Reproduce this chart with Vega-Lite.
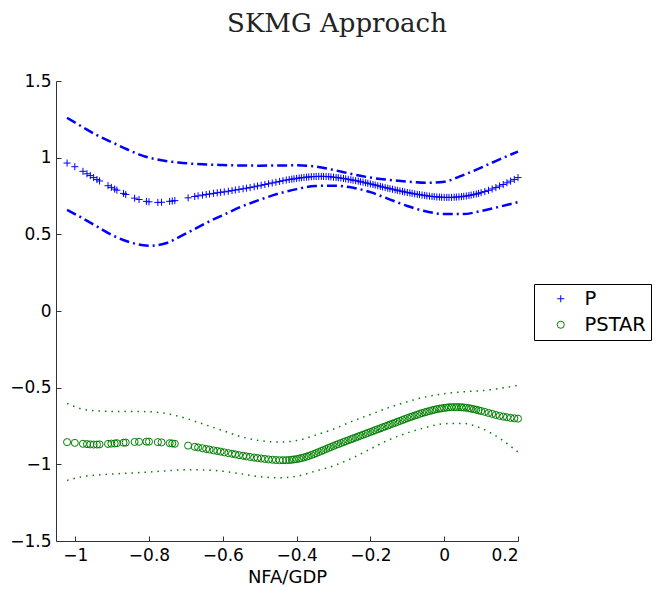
{
  "$schema": "https://vega.github.io/schema/vega-lite/v6.json",
  "width": 462,
  "height": 460,
  "autosize": {"type": "none"},
  "padding": {"left": 56, "top": 81, "right": 138, "bottom": 49},
  "background": "white",
  "config": {
    "view": {"stroke": null},
    "font": "DejaVu Sans",
    "axis": {
      "grid": false,
      "domainColor": "#333333",
      "tickColor": "#333333",
      "tickSize": -5,
      "labelPadding": 9,
      "labelFont": "DejaVu Sans",
      "labelFontSize": 17,
      "labelColor": "#000000",
      "titleFont": "DejaVu Sans",
      "titleFontSize": 18,
      "titleFontWeight": "normal",
      "titleColor": "#000000"
    }
  },
  "title": {
    "text": "SKMG Approach",
    "font": "DejaVu Serif",
    "fontSize": 26,
    "fontWeight": "normal",
    "color": "#222222",
    "anchor": "middle",
    "dx": 50,
    "offset": 35
  },
  "datasets": {
    "pts": [
      {"x": -1.022, "P": 0.965, "PSTAR": -0.855},
      {"x": -1.001, "P": 0.941, "PSTAR": -0.860},
      {"x": -0.979, "P": 0.911, "PSTAR": -0.866},
      {"x": -0.968, "P": 0.895, "PSTAR": -0.868},
      {"x": -0.959, "P": 0.883, "PSTAR": -0.870},
      {"x": -0.950, "P": 0.870, "PSTAR": -0.871},
      {"x": -0.941, "P": 0.857, "PSTAR": -0.871},
      {"x": -0.934, "P": 0.848, "PSTAR": -0.870},
      {"x": -0.911, "P": 0.817, "PSTAR": -0.867},
      {"x": -0.902, "P": 0.806, "PSTAR": -0.865},
      {"x": -0.893, "P": 0.795, "PSTAR": -0.864},
      {"x": -0.887, "P": 0.788, "PSTAR": -0.862},
      {"x": -0.869, "P": 0.767, "PSTAR": -0.859},
      {"x": -0.863, "P": 0.760, "PSTAR": -0.858},
      {"x": -0.839, "P": 0.736, "PSTAR": -0.854},
      {"x": -0.827, "P": 0.727, "PSTAR": -0.853},
      {"x": -0.807, "P": 0.715, "PSTAR": -0.852},
      {"x": -0.800, "P": 0.712, "PSTAR": -0.852},
      {"x": -0.776, "P": 0.708, "PSTAR": -0.855},
      {"x": -0.766, "P": 0.709, "PSTAR": -0.857},
      {"x": -0.744, "P": 0.715, "PSTAR": -0.862},
      {"x": -0.737, "P": 0.717, "PSTAR": -0.864},
      {"x": -0.730, "P": 0.720, "PSTAR": -0.866},
      {"x": -0.694, "P": 0.738, "PSTAR": -0.878},
      {"x": -0.676, "P": 0.747, "PSTAR": -0.886},
      {"x": -0.667, "P": 0.751, "PSTAR": -0.890},
      {"x": -0.655, "P": 0.756, "PSTAR": -0.895},
      {"x": -0.645, "P": 0.760, "PSTAR": -0.900},
      {"x": -0.636, "P": 0.763, "PSTAR": -0.904},
      {"x": -0.625, "P": 0.767, "PSTAR": -0.909},
      {"x": -0.615, "P": 0.771, "PSTAR": -0.913},
      {"x": -0.606, "P": 0.774, "PSTAR": -0.917},
      {"x": -0.596, "P": 0.777, "PSTAR": -0.922},
      {"x": -0.585, "P": 0.781, "PSTAR": -0.927},
      {"x": -0.575, "P": 0.785, "PSTAR": -0.931},
      {"x": -0.566, "P": 0.789, "PSTAR": -0.935},
      {"x": -0.556, "P": 0.793, "PSTAR": -0.940},
      {"x": -0.545, "P": 0.797, "PSTAR": -0.944},
      {"x": -0.536, "P": 0.801, "PSTAR": -0.948},
      {"x": -0.526, "P": 0.805, "PSTAR": -0.952},
      {"x": -0.515, "P": 0.810, "PSTAR": -0.956},
      {"x": -0.506, "P": 0.815, "PSTAR": -0.959},
      {"x": -0.496, "P": 0.820, "PSTAR": -0.962},
      {"x": -0.486, "P": 0.825, "PSTAR": -0.965},
      {"x": -0.476, "P": 0.830, "PSTAR": -0.968},
      {"x": -0.466, "P": 0.835, "PSTAR": -0.970},
      {"x": -0.456, "P": 0.840, "PSTAR": -0.972},
      {"x": -0.446, "P": 0.845, "PSTAR": -0.973},
      {"x": -0.437, "P": 0.850, "PSTAR": -0.973},
      {"x": -0.428, "P": 0.854, "PSTAR": -0.973},
      {"x": -0.420, "P": 0.857, "PSTAR": -0.972},
      {"x": -0.413, "P": 0.860, "PSTAR": -0.970},
      {"x": -0.407, "P": 0.862, "PSTAR": -0.968},
      {"x": -0.400, "P": 0.865, "PSTAR": -0.966},
      {"x": -0.393, "P": 0.867, "PSTAR": -0.963},
      {"x": -0.387, "P": 0.869, "PSTAR": -0.959},
      {"x": -0.380, "P": 0.871, "PSTAR": -0.955},
      {"x": -0.373, "P": 0.873, "PSTAR": -0.950},
      {"x": -0.367, "P": 0.874, "PSTAR": -0.945},
      {"x": -0.360, "P": 0.876, "PSTAR": -0.939},
      {"x": -0.353, "P": 0.877, "PSTAR": -0.933},
      {"x": -0.347, "P": 0.877, "PSTAR": -0.927},
      {"x": -0.340, "P": 0.878, "PSTAR": -0.920},
      {"x": -0.333, "P": 0.878, "PSTAR": -0.913},
      {"x": -0.327, "P": 0.878, "PSTAR": -0.907},
      {"x": -0.320, "P": 0.877, "PSTAR": -0.900},
      {"x": -0.313, "P": 0.876, "PSTAR": -0.893},
      {"x": -0.307, "P": 0.875, "PSTAR": -0.887},
      {"x": -0.300, "P": 0.873, "PSTAR": -0.880},
      {"x": -0.293, "P": 0.871, "PSTAR": -0.873},
      {"x": -0.287, "P": 0.869, "PSTAR": -0.868},
      {"x": -0.280, "P": 0.867, "PSTAR": -0.861},
      {"x": -0.273, "P": 0.864, "PSTAR": -0.855},
      {"x": -0.267, "P": 0.862, "PSTAR": -0.849},
      {"x": -0.260, "P": 0.859, "PSTAR": -0.843},
      {"x": -0.253, "P": 0.856, "PSTAR": -0.837},
      {"x": -0.247, "P": 0.853, "PSTAR": -0.831},
      {"x": -0.240, "P": 0.850, "PSTAR": -0.825},
      {"x": -0.233, "P": 0.847, "PSTAR": -0.819},
      {"x": -0.227, "P": 0.843, "PSTAR": -0.813},
      {"x": -0.220, "P": 0.840, "PSTAR": -0.807},
      {"x": -0.213, "P": 0.836, "PSTAR": -0.801},
      {"x": -0.207, "P": 0.833, "PSTAR": -0.795},
      {"x": -0.200, "P": 0.829, "PSTAR": -0.789},
      {"x": -0.193, "P": 0.825, "PSTAR": -0.783},
      {"x": -0.187, "P": 0.821, "PSTAR": -0.777},
      {"x": -0.180, "P": 0.817, "PSTAR": -0.771},
      {"x": -0.173, "P": 0.813, "PSTAR": -0.765},
      {"x": -0.167, "P": 0.809, "PSTAR": -0.759},
      {"x": -0.160, "P": 0.805, "PSTAR": -0.753},
      {"x": -0.153, "P": 0.801, "PSTAR": -0.747},
      {"x": -0.147, "P": 0.798, "PSTAR": -0.741},
      {"x": -0.140, "P": 0.794, "PSTAR": -0.735},
      {"x": -0.133, "P": 0.790, "PSTAR": -0.729},
      {"x": -0.127, "P": 0.787, "PSTAR": -0.723},
      {"x": -0.120, "P": 0.783, "PSTAR": -0.717},
      {"x": -0.113, "P": 0.780, "PSTAR": -0.711},
      {"x": -0.107, "P": 0.776, "PSTAR": -0.705},
      {"x": -0.100, "P": 0.773, "PSTAR": -0.699},
      {"x": -0.093, "P": 0.770, "PSTAR": -0.693},
      {"x": -0.087, "P": 0.767, "PSTAR": -0.688},
      {"x": -0.080, "P": 0.764, "PSTAR": -0.682},
      {"x": -0.073, "P": 0.761, "PSTAR": -0.677},
      {"x": -0.067, "P": 0.759, "PSTAR": -0.671},
      {"x": -0.060, "P": 0.756, "PSTAR": -0.666},
      {"x": -0.053, "P": 0.754, "PSTAR": -0.661},
      {"x": -0.047, "P": 0.751, "PSTAR": -0.657},
      {"x": -0.040, "P": 0.749, "PSTAR": -0.652},
      {"x": -0.033, "P": 0.747, "PSTAR": -0.648},
      {"x": -0.027, "P": 0.746, "PSTAR": -0.644},
      {"x": -0.020, "P": 0.744, "PSTAR": -0.640},
      {"x": -0.013, "P": 0.743, "PSTAR": -0.637},
      {"x": -0.007, "P": 0.742, "PSTAR": -0.635},
      {"x": 0.000, "P": 0.741, "PSTAR": -0.632},
      {"x": 0.007, "P": 0.741, "PSTAR": -0.630},
      {"x": 0.013, "P": 0.741, "PSTAR": -0.628},
      {"x": 0.020, "P": 0.741, "PSTAR": -0.627},
      {"x": 0.027, "P": 0.742, "PSTAR": -0.627},
      {"x": 0.033, "P": 0.743, "PSTAR": -0.627},
      {"x": 0.040, "P": 0.744, "PSTAR": -0.627},
      {"x": 0.047, "P": 0.746, "PSTAR": -0.628},
      {"x": 0.053, "P": 0.748, "PSTAR": -0.629},
      {"x": 0.060, "P": 0.750, "PSTAR": -0.631},
      {"x": 0.067, "P": 0.753, "PSTAR": -0.634},
      {"x": 0.073, "P": 0.756, "PSTAR": -0.637},
      {"x": 0.080, "P": 0.759, "PSTAR": -0.640},
      {"x": 0.087, "P": 0.763, "PSTAR": -0.644},
      {"x": 0.093, "P": 0.767, "PSTAR": -0.648},
      {"x": 0.100, "P": 0.772, "PSTAR": -0.652},
      {"x": 0.110, "P": 0.779, "PSTAR": -0.658},
      {"x": 0.120, "P": 0.787, "PSTAR": -0.665},
      {"x": 0.130, "P": 0.796, "PSTAR": -0.671},
      {"x": 0.140, "P": 0.805, "PSTAR": -0.678},
      {"x": 0.150, "P": 0.815, "PSTAR": -0.684},
      {"x": 0.160, "P": 0.825, "PSTAR": -0.689},
      {"x": 0.170, "P": 0.836, "PSTAR": -0.693},
      {"x": 0.180, "P": 0.847, "PSTAR": -0.697},
      {"x": 0.190, "P": 0.858, "PSTAR": -0.700},
      {"x": 0.200, "P": 0.870, "PSTAR": -0.702}
    ],
    "pbands": [
      {"x": -1.022, "PU": 1.26, "PL": 0.66},
      {"x": -0.98, "PU": 1.20, "PL": 0.605},
      {"x": -0.94, "PU": 1.145, "PL": 0.55},
      {"x": -0.90, "PU": 1.10, "PL": 0.495},
      {"x": -0.86, "PU": 1.055, "PL": 0.455},
      {"x": -0.82, "PU": 1.015, "PL": 0.43},
      {"x": -0.80, "PU": 1.0, "PL": 0.425},
      {"x": -0.78, "PU": 0.99, "PL": 0.428},
      {"x": -0.75, "PU": 0.977, "PL": 0.445},
      {"x": -0.72, "PU": 0.968, "PL": 0.48},
      {"x": -0.68, "PU": 0.96, "PL": 0.53},
      {"x": -0.64, "PU": 0.955, "PL": 0.58},
      {"x": -0.60, "PU": 0.952, "PL": 0.625},
      {"x": -0.55, "PU": 0.949, "PL": 0.68},
      {"x": -0.50, "PU": 0.948, "PL": 0.725},
      {"x": -0.45, "PU": 0.949, "PL": 0.765},
      {"x": -0.40, "PU": 0.95, "PL": 0.795},
      {"x": -0.35, "PU": 0.943, "PL": 0.815},
      {"x": -0.30, "PU": 0.92, "PL": 0.817},
      {"x": -0.25, "PU": 0.893, "PL": 0.805},
      {"x": -0.20, "PU": 0.87, "PL": 0.775},
      {"x": -0.15, "PU": 0.855, "PL": 0.73},
      {"x": -0.10, "PU": 0.844, "PL": 0.685},
      {"x": -0.05, "PU": 0.836, "PL": 0.65},
      {"x": 0.00, "PU": 0.843, "PL": 0.632},
      {"x": 0.05, "PU": 0.885, "PL": 0.632},
      {"x": 0.10, "PU": 0.935, "PL": 0.652},
      {"x": 0.15, "PU": 0.989, "PL": 0.68},
      {"x": 0.20, "PU": 1.04, "PL": 0.71}
    ],
    "sbands": [
      {"x": -1.022, "SU": -0.603, "SL": -1.105},
      {"x": -0.98, "SU": -0.64, "SL": -1.08},
      {"x": -0.94, "SU": -0.652, "SL": -1.07},
      {"x": -0.90, "SU": -0.655, "SL": -1.063},
      {"x": -0.85, "SU": -0.655, "SL": -1.057},
      {"x": -0.80, "SU": -0.657, "SL": -1.05},
      {"x": -0.75, "SU": -0.67, "SL": -1.042},
      {"x": -0.70, "SU": -0.70, "SL": -1.035},
      {"x": -0.65, "SU": -0.74, "SL": -1.037},
      {"x": -0.60, "SU": -0.78, "SL": -1.045},
      {"x": -0.55, "SU": -0.82, "SL": -1.062},
      {"x": -0.50, "SU": -0.845, "SL": -1.08},
      {"x": -0.45, "SU": -0.855, "SL": -1.088},
      {"x": -0.40, "SU": -0.845, "SL": -1.078},
      {"x": -0.35, "SU": -0.81, "SL": -1.045},
      {"x": -0.30, "SU": -0.77, "SL": -1.01},
      {"x": -0.25, "SU": -0.72, "SL": -0.96},
      {"x": -0.20, "SU": -0.675, "SL": -0.90},
      {"x": -0.15, "SU": -0.63, "SL": -0.84},
      {"x": -0.10, "SU": -0.592, "SL": -0.795},
      {"x": -0.05, "SU": -0.56, "SL": -0.76},
      {"x": 0.00, "SU": -0.54, "SL": -0.735},
      {"x": 0.05, "SU": -0.527, "SL": -0.733},
      {"x": 0.10, "SU": -0.52, "SL": -0.765},
      {"x": 0.15, "SU": -0.505, "SL": -0.83},
      {"x": 0.20, "SU": -0.485, "SL": -0.92}
    ]
  },
  "encoding": {
    "x": {
      "field": "x",
      "type": "quantitative",
      "scale": {"domain": [-1.052, 0.2], "nice": false, "zero": false},
      "axis": {"title": "NFA/GDP", "values": [-1, -0.8, -0.6, -0.4, -0.2, 0, 0.2], "format": "~g", "labelPadding": 11, "titlePadding": 5}
    },
    "y": {
      "field": "value",
      "type": "quantitative",
      "scale": {"domain": [-1.5, 1.5], "nice": false, "zero": false},
      "axis": {"title": null, "values": [-1.5, -1, -0.5, 0, 0.5, 1, 1.5], "format": "~g", "labelPadding": 10}
    }
  },
  "layer": [
    {
      "data": {"name": "pbands"},
      "transform": [{"fold": ["PU", "PL"], "as": ["band", "value"]}],
      "mark": {"type": "line", "color": "#0000ff", "strokeWidth": 2.5, "strokeDash": [10, 4, 2, 4], "interpolate": "monotone"},
      "encoding": {"detail": {"field": "band"}}
    },
    {
      "data": {"name": "sbands"},
      "transform": [{"fold": ["SU", "SL"], "as": ["band", "value"]}],
      "mark": {"type": "line", "color": "#008000", "strokeWidth": 1.5, "strokeDash": [1.5, 5], "interpolate": "monotone"},
      "encoding": {"detail": {"field": "band"}}
    },
    {
      "data": {"name": "pts"},
      "transform": [{"fold": ["P", "PSTAR"], "as": ["series", "value"]}],
      "mark": {"type": "point", "filled": false, "size": 50, "strokeWidth": 1, "opacity": 1},
      "encoding": {
        "color": {
          "field": "series",
          "type": "nominal",
          "scale": {"domain": ["P", "PSTAR"], "range": ["#0000ff", "#008000"]},
          "legend": {
            "title": null,
            "orient": "none",
            "legendX": 478,
            "legendY": 203,
            "padding": 5,
            "fillColor": "white",
            "strokeColor": "black",
            "labelFont": "DejaVu Sans",
            "labelFontSize": 19.5,
            "labelColor": "#000000",
            "symbolSize": 50,
            "symbolStrokeWidth": 1,
            "symbolOffset": 12,
            "labelOffset": 14,
            "rowPadding": 5
          }
        },
        "shape": {
          "field": "series",
          "type": "nominal",
          "scale": {"domain": ["P", "PSTAR"], "range": ["M-1,0H1M0,-1V1", "circle"]},
          "legend": null
        }
      }
    }
  ]
}
